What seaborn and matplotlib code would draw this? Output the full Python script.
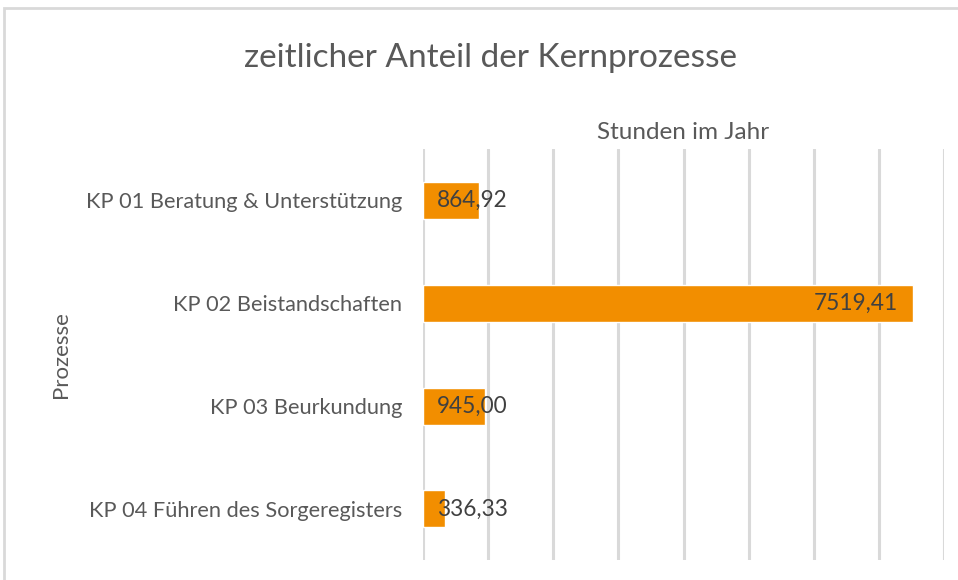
import matplotlib
matplotlib.use('Agg')
import matplotlib.pyplot as plt
import seaborn as sns
import pandas as pd

sns.set_theme(style='white')
plt.rcParams['font.family'] = ['Lato', 'DejaVu Sans']

prozesse = ['KP 01 Beratung & Unterstützung', 'KP 02 Beistandschaften',
            'KP 03 Beurkundung', 'KP 04 Führen des Sorgeregisters']
stunden = [864.92, 7519.41, 945.00, 336.33]

df = pd.DataFrame({'Prozess': prozesse, 'Stunden': stunden})

grau = '#595959'
orange = '#F28E00'

fig, ax = plt.subplots(figsize=(9.58, 5.80), dpi=100)
fig.subplots_adjust(left=0.4415, right=0.9855, top=0.743, bottom=0.034)

sns.barplot(data=df, y='Prozess', x='Stunden', color=orange, width=0.36,
            saturation=1, ax=ax)

ax.set_xlim(0, 8000)
ax.set_xticks(range(0, 8001, 1000))
ax.xaxis.grid(True, color='#D9D9D9', linewidth=2.2)
ax.set_axisbelow(True)
ax.tick_params(axis='x', length=0, labelbottom=False)
ax.tick_params(axis='y', length=0, labelsize=15.7, labelcolor=grau, pad=15)
for s in ax.spines.values():
    s.set_visible(False)

ax.xaxis.set_label_position('top')
ax.set_xlabel('Stunden im Jahr', fontsize=17.5, color=grau, labelpad=7)
ax.set_ylabel('Prozesse', fontsize=16, color=grau, labelpad=11)

for i, v in enumerate(stunden):
    txt = f'{v:.2f}'.replace('.', ',')
    if v > 2000:
        ax.text(v - 230, i, txt, ha='right', va='center', fontsize=16.3, color='#404040')
    else:
        ax.text(210, i, txt, ha='left', va='center', fontsize=16.3, color='#404040')

fig.text(0.512, 0.9, 'zeitlicher Anteil der Kernprozesse', ha='center', va='center',
         fontsize=24, color=grau)

rand = plt.Rectangle((0.004, -0.1), 1.2, 1.086, transform=fig.transFigure,
                     fill=False, edgecolor='#D9D9D9', linewidth=2)
fig.patches.append(rand)

fig.savefig('out.png', dpi=100)
